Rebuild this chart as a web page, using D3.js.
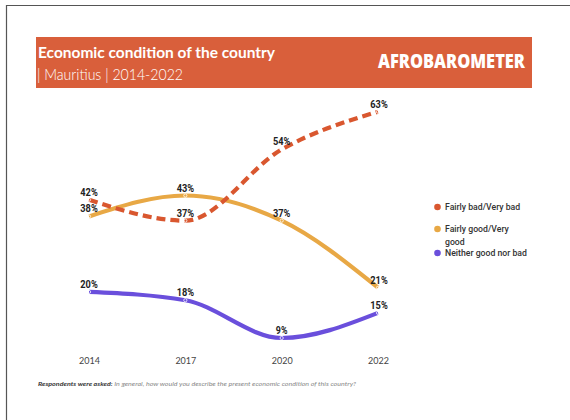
<!DOCTYPE html>
<html>
<head>
<meta charset="utf-8">
<script src="https://cdn.jsdelivr.net/npm/d3@7"></script>
<style>
  html, body { margin: 0; padding: 0; background: #fff; }
  #chart { width: 570px; height: 420px; }
</style>
</head>
<body>
<div id="chart"></div>
<script>
const years = ['2014', '2017', '2020', '2022']
const badValues = [42, 37, 54, 63]
const goodValues = [38, 43, 37, 21]
const neitherValues = [20, 18, 9, 15]
const seriesNames = ['Fairly bad/Very bad', 'Fairly good/Very good', 'Neither good nor bad']
const seriesColors = ['#d9572f', '#e8a845', '#6a4fdc']

const W = 570, H = 420

const svg = d3.select('#chart').append('svg')
  .attr('width', W)
  .attr('height', H)

// frame (top + left edges visible)
svg.append('line').attr('x1', 6).attr('x2', W).attr('y1', 5.5).attr('y2', 5.5)
  .attr('stroke', '#555').attr('stroke-width', 1.2)
svg.append('line').attr('x1', 6.5).attr('x2', 6.5).attr('y1', 5).attr('y2', H)
  .attr('stroke', '#555').attr('stroke-width', 1.2)

// header band
svg.append('rect')
  .attr('x', 36).attr('y', 37).attr('width', 496).attr('height', 51)
  .attr('fill', '#d95f3b')
svg.append('text')
  .attr('x', 38).attr('y', 58)
  .attr('fill', '#fff')
  .attr('font-family', 'Lato, "Open Sans", sans-serif')
  .attr('font-weight', 700)
  .attr('font-size', 16)
  .attr('textLength', 237)
  .attr('lengthAdjust', 'spacingAndGlyphs')
  .text('Economic condition of the country')
svg.append('text')
  .attr('x', 37).attr('y', 80)
  .attr('fill', '#fff')
  .attr('font-family', 'Lato, "Open Sans", sans-serif')
  .attr('font-weight', 300)
  .attr('font-size', 15)
  .attr('textLength', 146)
  .attr('lengthAdjust', 'spacingAndGlyphs')
  .text('| Mauritius | 2014-2022')
svg.append('text')
  .attr('x', 378).attr('y', 68)
  .attr('fill', '#fff')
  .attr('font-family', '"Open Sans", Roboto, sans-serif')
  .attr('font-weight', 800)
  .attr('font-size', 18.5)
  .attr('textLength', 147)
  .attr('lengthAdjust', 'spacingAndGlyphs')
  .text('AFROBAROMETER')

// scales
const x = d3.scalePoint().domain(years).range([89, 378])
const y = d3.scaleLinear().domain([0, 63]).range([375.7, 111.7])

const series = [
  { name: seriesNames[0], color: seriesColors[0], values: badValues, dash: '9,5' },
  { name: seriesNames[1], color: seriesColors[1], values: goodValues, dash: null },
  { name: seriesNames[2], color: seriesColors[2], values: neitherValues, dash: null },
]

const line = d3.line()
  .x((d, i) => x(years[i]))
  .y(d => y(d))
  .curve(d3.curveMonotoneX)

const g = svg.append('g')

// draw in order: neither, good, bad on top
;[series[2], series[1], series[0]].forEach(s => {
  g.append('path')
    .attr('d', line(s.values))
    .attr('fill', 'none')
    .attr('stroke', s.color)
    .attr('stroke-width', 4.2)
    .attr('stroke-dasharray', s.dash)

  g.selectAll(null)
    .data(s.values)
    .join('circle')
    .attr('cx', (d, i) => x(years[i]))
    .attr('cy', d => y(d))
    .attr('r', 1.6)
    .attr('fill', 'none')
    .attr('stroke', '#fff')
    .attr('stroke-width', 0.8)
})

series.forEach(s => {
  g.selectAll(null)
    .data(s.values)
    .join('text')
    .attr('x', (d, i) => x(years[i]) + (i === years.length - 1 ? 1 : 0))
    .attr('y', d => y(d) - 4)
    .attr('text-anchor', 'middle')
    .attr('fill', '#222')
    .attr('font-family', 'Roboto, "DejaVu Sans", sans-serif')
    .attr('font-weight', 700)
    .attr('font-size', 10)
    .attr('textLength', d => (String(d).length + 1) * 5.8)
    .attr('lengthAdjust', 'spacingAndGlyphs')
    .text(d => d + '%')
})

// x axis labels
const xAxis = svg.append('g')
  .attr('transform', 'translate(0,358)')
  .call(d3.axisBottom(x).tickSize(0).tickPadding(0))
xAxis.select('.domain').remove()
xAxis.selectAll('text')
  .attr('fill', '#444')
  .attr('font-family', 'Lato, "Open Sans", sans-serif')
  .attr('font-size', 9)

// legend
const legendRows = [
  { color: seriesColors[0], lines: ['Fairly bad/Very bad'], y: 207 },
  { color: seriesColors[1], lines: ['Fairly good/Very', 'good'], y: 229 },
  { color: seriesColors[2], lines: ['Neither good nor bad'], y: 253 },
]
const legend = svg.append('g')
legendRows.forEach(r => {
  legend.append('circle')
    .attr('cx', 437.5).attr('cy', r.y).attr('r', 3.3)
    .attr('fill', r.color)
  const t = legend.append('text')
    .attr('x', 445).attr('y', r.y + 3)
    .attr('fill', '#333')
    .attr('font-family', 'Roboto, "Open Sans", sans-serif')
    .attr('font-weight', 500)
    .attr('font-size', 8.7)
  r.lines.forEach((l, i) => {
    t.append('tspan').attr('x', 445).attr('dy', i === 0 ? 0 : 12.5).text(l)
  })
})

// footnote
const foot = svg.append('text')
  .attr('x', 38).attr('y', 386)
  .attr('font-family', 'Lato, "Open Sans", sans-serif')
  .attr('font-size', 6.3)
  .attr('font-style', 'italic')
  .attr('textLength', 318)
  .attr('lengthAdjust', 'spacingAndGlyphs')
foot.append('tspan').attr('font-weight', 700).attr('fill', '#333').text('Respondents were asked: ')
foot.append('tspan').attr('fill', '#888').text('In general, how would you describe the present economic condition of this country?')
</script>
</body>
</html>
